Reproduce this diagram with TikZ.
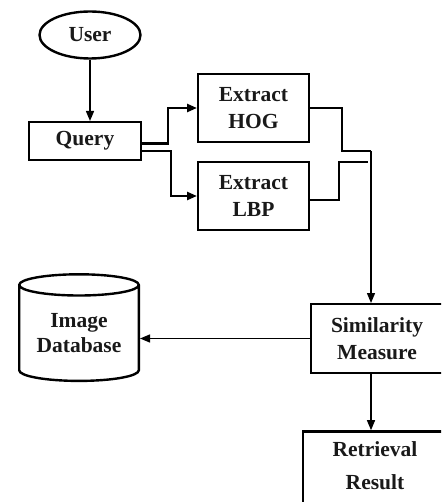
\documentclass[tikz,border=0pt]{standalone}
\usepackage{fontspec}
\setmainfont{Liberation Serif}
\usetikzlibrary{shapes.geometric,arrows.meta,calc}
\begin{document}
\begin{tikzpicture}[x=1pt,y=-1pt,
  lbl/.style={font=\bfseries\fontsize{21.5}{27}\selectfont,align=center,text=black!90},
  box/.style={draw,line width=2.4pt,inner sep=0pt,lbl},
  thickln/.style={line width=2.4pt},
  thinln/.style={line width=1.4pt},
  arr/.style={-{Triangle[length=10pt,width=8pt]}},
]
\useasboundingbox (0,0) rectangle (441,502);
\clip (0,0) rectangle (441,502);
\node[box,ellipse,minimum width=101pt,minimum height=47pt] (user) at (90,35) {User};
\node[box,minimum width=111.6pt,minimum height=37.6pt] (query) at (85,141) {Query};
\node[box,minimum width=110.6pt,minimum height=67.6pt] (hog) at (253.5,108) {Extract\\HOG};
\node[box,minimum width=110.6pt,minimum height=67.6pt] (lbp) at (253.5,196) {Extract\\LBP};
\node[box,minimum width=131.6pt,minimum height=68.6pt] (sim) at (377,338.5) {Similarity\\Measure};
\node[box,cylinder,shape border rotate=90,aspect=0.25,minimum width=119.6pt,minimum height=106.6pt] (db) at (79,333.5) {Image\\[-2pt]Database};
\node[draw,line width=2.4pt,inner sep=0pt,minimum width=143.6pt,minimum height=100pt,anchor=north] (ret) at (375,430.2) {};
\node[lbl] (rettext) at (375,466) {Retrieval\\[6pt]Result};
\coordinate (hj) at (371,151);
\coordinate (lj) at (368,162);
% connectors
\draw[thinln,arr] (user.south) -- (user.south |- query.north);
\draw[thickln,arr] ($(query.east)+(0,2.5)$) -- ++(26,0) |- (hog.west);
\draw[thickln,arr] ($(query.east)+(0,10)$) -- ++(29,0) |- (lbp.west);
\draw[thickln] (hog.east) -- ++(32,0) |- (hj);
\draw[thickln] ($(lbp.east)+(0,4)$) -- ++(29,0) |- (lj);
\draw[thinln,arr] (hj) -- (hj |- sim.north);
\draw[thinln,arr] (sim.west) -- (sim.west -| db.east);
\draw[thinln,arr] (hj |- sim.south) -- (hj |- ret.north);
\end{tikzpicture}
\end{document}
